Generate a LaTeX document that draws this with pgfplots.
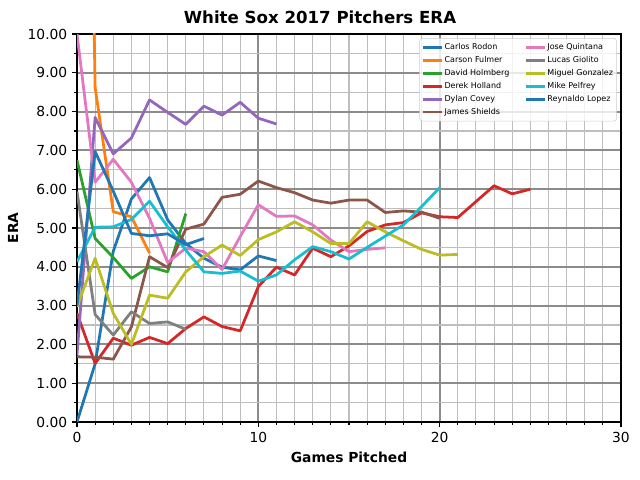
\documentclass[border=0pt]{standalone}
\usepackage{fontspec}
\setmainfont{DejaVu Sans}
\usepackage{pgfplots}
\pgfplotsset{compat=1.18}
\definecolor{c0}{HTML}{1F77B4}
\definecolor{c1}{HTML}{FF7F0E}
\definecolor{c2}{HTML}{2CA02C}
\definecolor{c3}{HTML}{D62728}
\definecolor{c4}{HTML}{9467BD}
\definecolor{c5}{HTML}{8C564B}
\definecolor{c6}{HTML}{E377C2}
\definecolor{c7}{HTML}{7F7F7F}
\definecolor{c8}{HTML}{BCBD22}
\definecolor{c9}{HTML}{17BECF}
\definecolor{majgrid}{RGB}{140,140,140}
\definecolor{mingrid}{RGB}{190,190,190}
\definecolor{legframe}{RGB}{204,204,204}
\begin{document}
\begin{tikzpicture}
\path[use as bounding box] (-0.77in,-0.58in) rectangle (5.63in,4.22in);
\begin{axis}[
  at={(0,0)}, anchor=south west,
  scale only axis, width=5.44in, height=3.88in,
  xmin=0, xmax=30, ymin=0, ymax=10,
  xtick={0,10,20,30}, minor x tick num=9,
  ytick={0,1,2,3,4,5,6,7,8,9,10}, minor y tick num=1,
  grid=both,
  major grid style={line width=1.4pt, draw=majgrid},
  minor grid style={line width=0.8pt, draw=mingrid},
  tick align=outside, tick pos=left,
  major tick length=3.5pt, minor tick length=2pt,
  every tick/.style={black, line width=0.8pt},
  axis line style={line width=1pt},
  yticklabel style={/pgf/number format/.cd, fixed, fixed zerofill, precision=2},
  /pgf/number format/assume math mode=true,
  title={\bfseries White Sox 2017 Pitchers ERA},
  title style={font=\fontsize{12}{14}\selectfont, xshift=-0.29in, yshift=-2pt},
  xlabel={\bfseries Games Pitched},
  ylabel={\bfseries ERA},
  every axis plot/.append style={line width=2pt, line join=round, no marks},
  legend style={at={(1,1)}, anchor=north east, xshift=-3pt, yshift=-3pt,
    draw=legframe, fill=white, fill opacity=0.8, text opacity=1, draw opacity=1,
    rounded corners=2pt, font=\fontsize{5.79}{7}\selectfont,
    inner xsep=1.5pt, inner ysep=1.8pt,
    nodes={inner sep=1pt, text height=5.5pt, text depth=1.85pt},
    /tikz/every even column/.append style={column sep=10pt}},
  legend columns=2, legend cell align=left,
  legend image code/.code={\draw[#1, line width=2pt, draw opacity=1] (0pt,0pt) -- (13.5pt,0pt);},
]
% Carlos Rodon
\addplot[c0, forget plot] coordinates {(0,0.00) (1,1.50) (2,4.40) (3,5.75) (4,6.30) (5,5.21) (6,4.60) (7,4.22) (8,3.99) (9,3.92) (10,4.28) (11,4.16)};
% Carson Fulmer
\addplot[c1, forget plot] coordinates {(0,36.0) (1,8.62) (2,5.42) (3,5.29) (4,4.35)};
% David Holmberg
\addplot[c2, forget plot] coordinates {(0,6.75) (1,4.73) (2,4.24) (3,3.70) (4,4.00) (5,3.87) (6,5.37)};
% Derek Holland
\addplot[c3, forget plot] coordinates {(0,2.80) (1,1.51) (2,2.16) (3,1.98) (4,2.18) (5,2.02) (6,2.41) (7,2.71) (8,2.46) (9,2.35) (10,3.49) (11,3.99) (12,3.79) (13,4.48) (14,4.26) (15,4.54) (16,4.91) (17,5.08) (18,5.14) (19,5.39) (20,5.29) (21,5.27) (22,5.68) (23,6.09) (24,5.88) (25,6.00)};
% Dylan Covey
\addplot[c4, forget plot] coordinates {(0,1.73) (1,7.85) (2,6.91) (3,7.32) (4,8.30) (5,7.98) (6,7.67) (7,8.14) (8,7.91) (9,8.24) (10,7.83) (11,7.68)};
% James Shields
\addplot[c5, forget plot] coordinates {(0,1.68) (1,1.67) (2,1.62) (3,2.45) (4,4.26) (5,3.98) (6,4.97) (7,5.10) (8,5.79) (9,5.87) (10,6.21) (11,6.04) (12,5.91) (13,5.72) (14,5.64) (15,5.72) (16,5.72) (17,5.40) (18,5.44) (19,5.41) (20,5.25)};
% Jose Quintana
\addplot[c6, forget plot] coordinates {(0,10.00) (1,6.18) (2,6.77) (3,6.18) (4,5.25) (5,4.11) (6,4.48) (7,4.39) (8,3.93) (9,4.78) (10,5.60) (11,5.30) (12,5.31) (13,5.08) (14,4.69) (15,4.39) (16,4.45) (17,4.49)};
% Lucas Giolito
\addplot[c7, forget plot] coordinates {(0,5.94) (1,2.77) (2,2.24) (3,2.84) (4,2.54) (5,2.58) (6,2.39)};
% Miguel Gonzalez
\addplot[c8, forget plot] coordinates {(0,2.97) (1,4.22) (2,2.80) (3,2.00) (4,3.27) (5,3.19) (6,3.87) (7,4.26) (8,4.56) (9,4.29) (10,4.70) (11,4.90) (12,5.16) (13,4.90) (14,4.60) (15,4.60) (16,5.16) (17,4.90) (18,4.67) (19,4.45) (20,4.30) (21,4.32)};
% Mike Pelfrey
\addplot[c9, forget plot] coordinates {(0,4.13) (1,5.02) (2,5.03) (3,5.22) (4,5.69) (5,5.03) (6,4.43) (7,3.87) (8,3.83) (9,3.89) (10,3.63) (11,3.79) (12,4.18) (13,4.52) (14,4.39) (15,4.20) (16,4.50) (17,4.79) (18,5.08) (19,5.55) (20,6.04)};
% Reynaldo Lopez
\addplot[c0, forget plot] coordinates {(0,3.00) (1,6.97) (2,5.95) (3,4.86) (4,4.80) (5,4.85) (6,4.57) (7,4.73)};
% legend in column-major order
\addlegendimage{c0}\addlegendentry{Carlos Rodon}
\addlegendimage{c6}\addlegendentry{Jose Quintana}
\addlegendimage{c1}\addlegendentry{Carson Fulmer}
\addlegendimage{c7}\addlegendentry{Lucas Giolito}
\addlegendimage{c2}\addlegendentry{David Holmberg}
\addlegendimage{c8}\addlegendentry{Miguel Gonzalez}
\addlegendimage{c3}\addlegendentry{Derek Holland}
\addlegendimage{c9}\addlegendentry{Mike Pelfrey}
\addlegendimage{c4}\addlegendentry{Dylan Covey}
\addlegendimage{c0}\addlegendentry{Reynaldo Lopez}
\addlegendimage{c5}\addlegendentry{James Shields}
\end{axis}
\end{tikzpicture}
\end{document}
